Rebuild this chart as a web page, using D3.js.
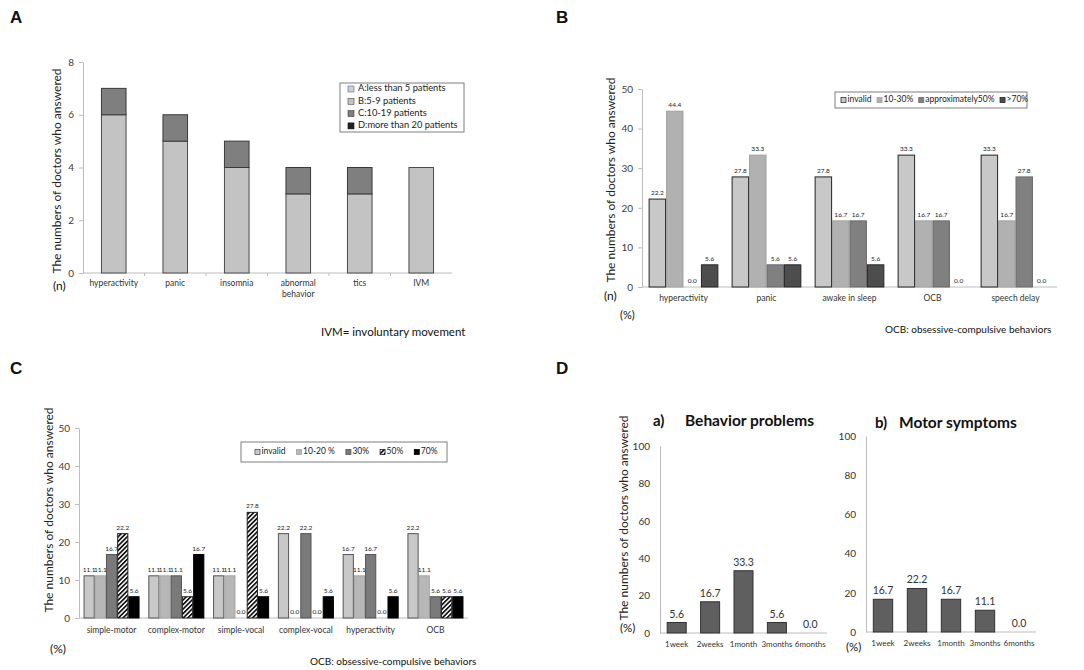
<!DOCTYPE html>
<html>
<head>
<meta charset="utf-8">
<script src="https://cdn.jsdelivr.net/npm/d3@7"></script>
<style>
  body { margin: 0; background: #fff; }
  svg { display: block; }
</style>
</head>
<body>
<svg id="chart" width="1084" height="670"></svg>
<script>
// ---- panel A : stacked, number of doctors
const aCategories = ["hyperactivity", "panic", "insomnia", "abnormal behavior", "tics", "IVM"];
const aSeries = ["A:less than 5 patients", "B:5-9 patients", "C:10-19 patients", "D:more than 20 patients"];
const aLess5 = [0, 0, 0, 0, 0, 0];
const a5to9 = [6, 5, 4, 3, 3, 4];
const a10to19 = [1, 1, 1, 1, 1, 0];
const aOver20 = [0, 0, 0, 0, 0, 0];
const aTicks = [0, 2, 4, 6, 8];

// ---- panel B
const bCategories = ["hyperactivity", "panic", "awake in sleep", "OCB", "speech delay"];
const bSeries = ["invalid", "10-30%", "approximately50%", ">70%"];
const bInvalid = [22.2, 27.8, 27.8, 33.3, 33.3];
const b10to30 = [44.4, 33.3, 16.7, 16.7, 16.7];
const bApprox50 = [0.0, 5.6, 16.7, 16.7, 27.8];
const bOver70 = [5.6, 5.6, 5.6, 0.0, 0.0];
const bTicks = [0, 10, 20, 30, 40, 50];

// ---- panel C
const cCategories = ["simple-motor", "complex-motor", "simple-vocal", "complex-vocal", "hyperactivity", "OCB"];
const cSeries = ["invalid", "10-20 %", "30%", "50%", "70%"];
const cInvalid = [11.1, 11.1, 11.1, 22.2, 16.7, 22.2];
const c10to20 = [11.1, 11.1, 11.1, 0.0, 11.1, 11.1];
const c30 = [16.7, 11.1, 0.0, 22.2, 16.7, 5.6];
const c50 = [22.2, 5.6, 27.8, 0.0, 0.0, 5.6];
const c70 = [5.6, 16.7, 5.6, 5.6, 5.6, 5.6];
const cTicks = [0, 10, 20, 30, 40, 50];

// ---- panel D
const dPeriods = ["1week", "2weeks", "1month", "3months", "6months"];
const dBehavior = [5.6, 16.7, 33.3, 5.6, 0.0];
const dMotor = [16.7, 22.2, 16.7, 11.1, 0.0];
const dTicks = [0, 20, 40, 60, 80, 100];

const FONT = "Lato, 'Open Sans', sans-serif";
const svg = d3.select("#chart");
const fmt = d3.format(".1f");

// hatch for the 50% series in C
svg.append("defs").append("pattern")
    .attr("id", "hatch")
    .attr("width", 3.2).attr("height", 3.2)
    .attr("patternUnits", "userSpaceOnUse")
    .attr("patternTransform", "rotate(45)")
    .call(p => {
        p.append("rect").attr("width", 3.2).attr("height", 3.2).attr("fill", "#fff");
        p.append("rect").attr("width", 1.7).attr("height", 3.2).attr("fill", "#111");
    });

function yAxis(y, ticks, x, size) {
    const ax = svg.append("g")
        .attr("transform", `translate(${x},0)`)
        .call(d3.axisLeft(y).tickValues(ticks).tickSize(4).tickSizeOuter(0).tickPadding(5));
    ax.select(".domain").attr("stroke", "#bdbdbd");
    ax.selectAll(".tick line").attr("stroke", "#bdbdbd");
    ax.selectAll(".tick text").attr("font-size", size).attr("font-family", FONT).attr("fill", "#404040");
}

function xAxis(x, y0, labelY, size, opts = {}) {
    const [r0, r1] = x.range();
    svg.append("line").attr("x1", r0).attr("x2", r1).attr("y1", y0).attr("y2", y0)
        .attr("stroke", "#bdbdbd");
    if (opts.marks) {
        x.domain().forEach((c, i) => {
            if (i == 0) return;
            const bx = x(c) - x.step() * x.paddingInner() / 2;
            svg.append("line").attr("x1", bx).attr("x2", bx).attr("y1", y0).attr("y2", y0 + 3).attr("stroke", "#bdbdbd");
        });
    }
    x.domain().forEach(c => {
        const t = svg.append("text")
            .attr("x", x(c) + x.bandwidth() / 2).attr("y", labelY)
            .attr("text-anchor", "middle").attr("font-size", size)
            .attr("font-family", FONT).attr("fill", "#333");
        const lines = (opts.wrap && c.includes(" ")) ? c.split(" ") : [c];
        lines.forEach((l, i) => t.append("tspan").attr("x", x(c) + x.bandwidth() / 2).attr("dy", i ? size * 1.25 : 0).text(l));
    });
}

function yLabel(x, y, size = 12) {
    svg.append("text")
        .attr("transform", `translate(${x},${y}) rotate(-90)`)
        .attr("text-anchor", "middle").attr("dominant-baseline", "middle")
        .attr("font-size", size).attr("font-family", FONT).attr("fill", "#222")
        .text("The  numbers of doctors  who answered");
}

function note(x, y, txt, size, anchor = "start", weight = "normal", family = FONT) {
    svg.append("text").attr("x", x).attr("y", y).attr("text-anchor", anchor)
        .attr("font-size", size).attr("font-weight", weight).attr("font-family", family)
        .attr("fill", "#111").text(txt);
}

function grouped(cats, keys, cols, x0, y, styles, labelSize) {
    const x1 = d3.scaleBand().domain(keys).range([0, x0.bandwidth()]);
    const rows = cats.map((c, i) => ({ cat: c, vals: keys.map((k, j) => ({ key: k, j: j, v: cols[j][i] })) }));
    const g = svg.append("g").selectAll("g").data(rows).join("g")
        .attr("transform", d => `translate(${x0(d.cat)},0)`);
    g.selectAll("rect").data(d => d.vals.filter(e => e.v > 0)).join("rect")
        .attr("x", d => x1(d.key) + 0.5).attr("width", x1.bandwidth() - 1)
        .attr("y", d => y(d.v)).attr("height", d => y(0) - y(d.v))
        .attr("fill", d => styles[d.j].fill).attr("stroke", d => styles[d.j].stroke)
        .attr("stroke-width", d => styles[d.j].sw || 1);
    g.selectAll("text").data(d => d.vals).join("text")
        .attr("x", d => x1(d.key) + x1.bandwidth() / 2).attr("y", d => y(d.v) - 4)
        .attr("text-anchor", "middle").attr("font-size", labelSize).attr("font-family", FONT)
        .attr("fill", "#222").text(d => fmt(d.v));
}

function legendRow(x, y, w, h, keys, styles, size, gap) {
    svg.append("rect").attr("x", x).attr("y", y).attr("width", w).attr("height", h)
        .attr("fill", "#fff").attr("stroke", "#7f7f7f").attr("stroke-width", 1);
    let cx = x + gap.start;
    keys.forEach((k, i) => {
        svg.append("rect").attr("x", cx).attr("y", y + h / 2 - 2.5).attr("width", 5).attr("height", 5)
            .attr("fill", styles[i].fill).attr("stroke", styles[i].stroke).attr("stroke-width", 0.8);
        const t = svg.append("text").attr("x", cx + 6.5).attr("y", y + h / 2)
            .attr("dominant-baseline", "middle").attr("font-size", size).attr("font-family", FONT)
            .attr("fill", "#222").text(k);
        cx += 6.5 + t.node().getComputedTextLength() + gap.between;
    });
}

// ================= A =================
{
    const x = d3.scaleBand().domain(aCategories).range([83, 452]).paddingInner(0.6).paddingOuter(0.3);
    const y = d3.scaleLinear().domain([0, 8]).range([273, 62]);
    const cols = [aLess5, a5to9, a10to19, aOver20];
    const table = aCategories.map((c, i) => {
        const r = { cat: c };
        aSeries.forEach((s, j) => r[s] = cols[j][i]);
        return r;
    });
    const stack = d3.stack().keys(aSeries)(table);
    const aStyle = [
        { fill: "#c9d1dc", stroke: "#5a6a7a" },
        { fill: "#c3c3c3", stroke: "#4a4a4a" },
        { fill: "#7f7f7f", stroke: "#3a3a3a" },
        { fill: "#222", stroke: "#111" }
    ];
    yAxis(y, aTicks, 83, 10);
    xAxis(x, 273, 286, 8.5, { wrap: true, marks: true });
    svg.append("g").selectAll("g").data(stack).join("g")
        .attr("fill", (d, i) => aStyle[i].fill).attr("stroke", (d, i) => aStyle[i].stroke)
        .selectAll("rect").data(d => d.filter(p => p[1] > p[0])).join("rect")
        .attr("x", d => x(d.data.cat)).attr("width", x.bandwidth())
        .attr("y", d => y(d[1])).attr("height", d => y(d[0]) - y(d[1]));
    // legend
    svg.append("rect").attr("x", 340).attr("y", 83).attr("width", 124).attr("height", 49)
        .attr("fill", "#fff").attr("stroke", "#7f7f7f");
    aSeries.forEach((s, i) => {
        const cy = 89 + i * 12.3;
        svg.append("rect").attr("x", 348).attr("y", cy - 3).attr("width", 6).attr("height", 6)
            .attr("fill", aStyle[i].fill).attr("stroke", aStyle[i].stroke).attr("stroke-width", 0.6);
        svg.append("text").attr("x", 358).attr("y", cy).attr("dominant-baseline", "middle")
            .attr("font-size", 9.3).attr("font-family", FONT).attr("fill", "#222").text(s);
    });
    yLabel(58, 171);
    note(53, 290, "(n)", 12);
    note(321, 336, "IVM= involuntary movement", 11.5);
    note(10, 23, "A", 17, "start", "bold", "'Liberation Sans', Arial, sans-serif");
}

// ================= B =================
{
    const x = d3.scaleBand().domain(bCategories).range([642, 1057]).paddingInner(0.16).paddingOuter(0.08);
    const y = d3.scaleLinear().domain([0, 50]).range([287, 89]);
    const bStyle = [
        { fill: "#c8c8c8", stroke: "#333", sw: 1.1 },
        { fill: "#b1b1b1", stroke: "#a0a0a0" },
        { fill: "#808080", stroke: "#6a6a6a" },
        { fill: "#4d4d4d", stroke: "#262626" }
    ];
    yAxis(y, bTicks, 642, 10);
    xAxis(x, 287, 301, 8.5);
    grouped(bCategories, bSeries, [bInvalid, b10to30, bApprox50, bOver70], x, y, bStyle, 6.5);
    legendRow(835, 92, 192, 16, bSeries, bStyle, 8.5, { start: 6, between: 5.5 });
    yLabel(612, 180);
    note(604, 300, "(n)", 12);
    note(620, 319, "(%)", 11);
    note(885, 333, "OCB: obsessive-compulsive   behaviors", 10);
    note(556, 23, "B", 17, "start", "bold", "'Liberation Sans', Arial, sans-serif");
}

// ================= C =================
{
    const x = d3.scaleBand().domain(cCategories).range([79, 468]).paddingInner(0.135).paddingOuter(0.07);
    const y = d3.scaleLinear().domain([0, 50]).range([618, 428]);
    const cStyle = [
        { fill: "#c8c8c8", stroke: "#555" },
        { fill: "#b7b7b7", stroke: "#a5a5a5" },
        { fill: "#7a7a7a", stroke: "#555" },
        { fill: "url(#hatch)", stroke: "#222" },
        { fill: "#000", stroke: "#000" }
    ];
    yAxis(y, cTicks, 79, 10);
    xAxis(x, 618, 633, 8.5, { marks: false });
    grouped(cCategories, cSeries, [cInvalid, c10to20, c30, c50, c70], x, y, cStyle, 6.5);
    legendRow(241, 442, 206, 20, cSeries, cStyle, 8.5, { start: 14, between: 11 });
    yLabel(50, 510);
    note(50, 653, "(%)", 12);
    note(310, 665, "OCB: obsessive-compulsive   behaviors", 10);
    note(10, 374, "C", 17, "start", "bold", "'Liberation Sans', Arial, sans-serif");
}

// ================= D =================
{
    const dStyle = { fill: "#5f5f5f", stroke: "#333" };
    const panels = [
        { vals: dBehavior, range: [660, 827], y0: 633, y1: 446, tag: "a)", tagX: 653, title: "Behavior problems", titleX: 685, titleY: 426 },
        { vals: dMotor, range: [866, 1036], y0: 632, y1: 436, tag: "b)", tagX: 875, title: "Motor symptoms", titleX: 899, titleY: 428 }
    ];
    panels.forEach(p => {
        const x = d3.scaleBand().domain(dPeriods).range(p.range).paddingInner(0.43).paddingOuter(0.215);
        const y = d3.scaleLinear().domain([0, 100]).range([p.y0, p.y1]);
        const ax = svg.append("g").attr("transform", `translate(${p.range[0]},0)`)
            .call(d3.axisLeft(y).tickValues(dTicks).tickSize(0).tickPadding(10));
        ax.select(".domain").attr("stroke", "#bdbdbd");
        ax.selectAll(".tick text").attr("font-size", 10).attr("font-family", FONT).attr("fill", "#333");
        xAxis(x, p.y0, p.y0 + 14, 8);
        svg.append("g").selectAll("rect").data(dPeriods.map((c, i) => ({ c: c, v: p.vals[i] })).filter(d => d.v > 0))
            .join("rect")
            .attr("x", d => x(d.c)).attr("width", x.bandwidth())
            .attr("y", d => y(d.v)).attr("height", d => y(0) - y(d.v))
            .attr("fill", dStyle.fill).attr("stroke", dStyle.stroke);
        svg.append("g").selectAll("text").data(dPeriods.map((c, i) => ({ c: c, v: p.vals[i] })))
            .join("text")
            .attr("x", d => x(d.c) + x.bandwidth() / 2).attr("y", d => y(d.v) - 5)
            .attr("text-anchor", "middle").attr("font-size", 10.5).attr("font-family", FONT)
            .attr("fill", "#333").text(d => fmt(d.v));
        note(p.tagX, p.titleY, p.tag, 15, "start", "bold");
        note(p.titleX, p.titleY, p.title, 15.5, "start", "bold");
    });
    yLabel(625, 518);
    note(620, 632, "(%)", 11.5);
    note(846, 651, "(%)", 11.5);
    note(556, 374, "D", 17, "start", "bold", "'Liberation Sans', Arial, sans-serif");
}
</script>
</body>
</html>
